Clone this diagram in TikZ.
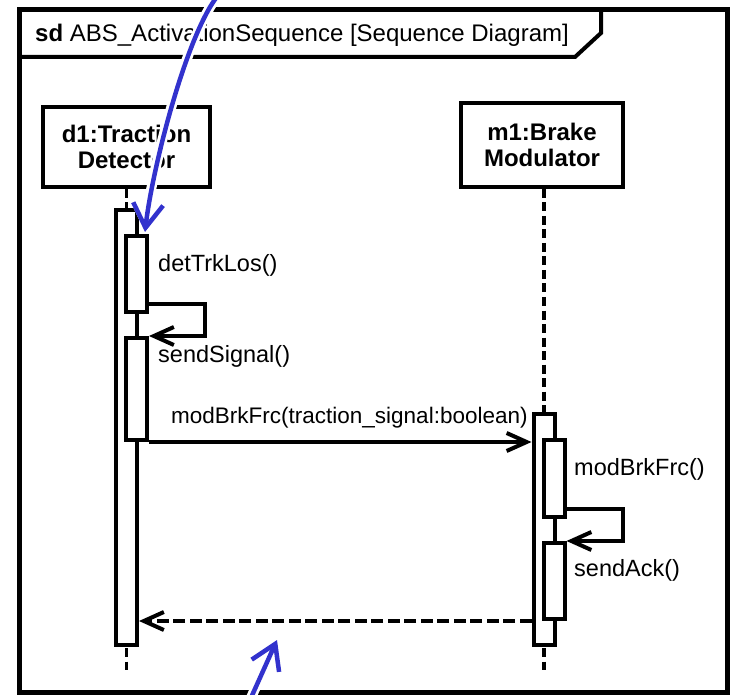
\documentclass[tikz,border=0pt]{standalone}
\usepackage{fontspec}
\setmainfont{Liberation Sans}
\usetikzlibrary{arrows.meta, positioning}
\definecolor{noteblue}{RGB}{50,50,205}
\tikzset{
  head/.style={rectangle, draw, line width=4pt, fill=white, align=center, inner sep=0pt, font=\bfseries\fontsize{24}{26}\selectfont},
  actbar/.style={rectangle, draw, line width=4pt, fill=white, minimum width=21pt, inner sep=0pt},
  lifeline/.style={line width=3.8pt, dash pattern=on 9pt off 4.5pt},
  msg/.style={line width=4pt, -{Straight Barb[length=20pt,width=18pt]}},
  reply/.style={msg, dash pattern=on 12pt off 4.5pt},
  lbl/.style={anchor=base west, inner sep=0pt, font=\fontsize{23.5}{26}\selectfont},
  note/.style={noteblue, line width=4.5pt, -{Straight Barb[length=24pt,width=30pt]}, preaction={draw=white, line width=10pt}},
}

\begin{document}
\begin{tikzpicture}[x=1pt, y=-1pt]
    \useasboundingbox (0,0) rectangle (734,695);
    % frame
    \draw[line width=5pt] (19,10) rectangle (727,692);
    \draw[line width=4pt] (19,57) -- (575,57) -- (601,33) -- (601,10);
    \node[lbl, font=\fontsize{24}{26}\selectfont] (title) at (35,42) {\textbf{sd} ABS\_ActivationSequence [Sequence Diagram]};

    % lifelines
    \node[head, minimum width=167pt, minimum height=80pt] (d1) at (126.5,147) {d1:Traction\\Detector};
    \node[head, minimum width=162pt, minimum height=84pt] (m1) at (542,145) {m1:Brake\\Modulator};
    \coordinate (d1end) at (126.5,670);
    \coordinate (m1end) at (544,670);
    \draw[lifeline] (d1) -- (d1end);
    \draw[lifeline] (m1.south -| m1end) -- (m1end);

    % activations
    \node[actbar, minimum height=435pt] (d1bar) at (126.5,427.5) {};
    \node[actbar, minimum height=76pt] (d1act1) at (136.5,274) {};
    \node[actbar, minimum height=102pt] (d1act2) at (136.5,389) {};
    \node[actbar, minimum height=231pt] (m1bar) at (544,529.5) {};
    \node[actbar, minimum height=77pt] (m1act1) at (554,478.5) {};
    \node[actbar, minimum height=76pt] (m1act2) at (554,581) {};

    % messages
    \draw[msg] ([yshift=10pt]d1act1.south east) -- ++(56,0) |- (d1act2.north east);
    \draw[msg] (d1act2.south east) -- (d1act2.south east -| m1bar.west);
    \draw[msg] ([yshift=10pt]m1act1.south east) -- ++(56,0) |- (m1act2.north east);
    \draw[reply] (m1act2.south west -| m1bar.west) -- (m1act2.south west -| d1bar.east);

    \node[lbl] (call1) at (158,272) {detTrkLos()};
    \node[lbl] (call2) at (158,362) {sendSignal()};
    \node[lbl, font=\fontsize{22.5}{26}\selectfont] (call3) at (171,423) {modBrkFrc(traction\_signal:boolean)};
    \node[lbl] (call4) at (574,475) {modBrkFrc()};
    \node[lbl] (call5) at (574,576) {sendAck()};

    % pointers
    \coordinate (n1from) at (216,-2);
    \coordinate (n1to) at (145,232);
    \draw[note] (n1from) .. controls (185,40) and (152,170) .. (n1to);
    \coordinate (n2from) at (250,700);
    \coordinate (n2to) at (277,640);
    \draw[note] (n2from) -- (n2to);
\end{tikzpicture}
\end{document}
